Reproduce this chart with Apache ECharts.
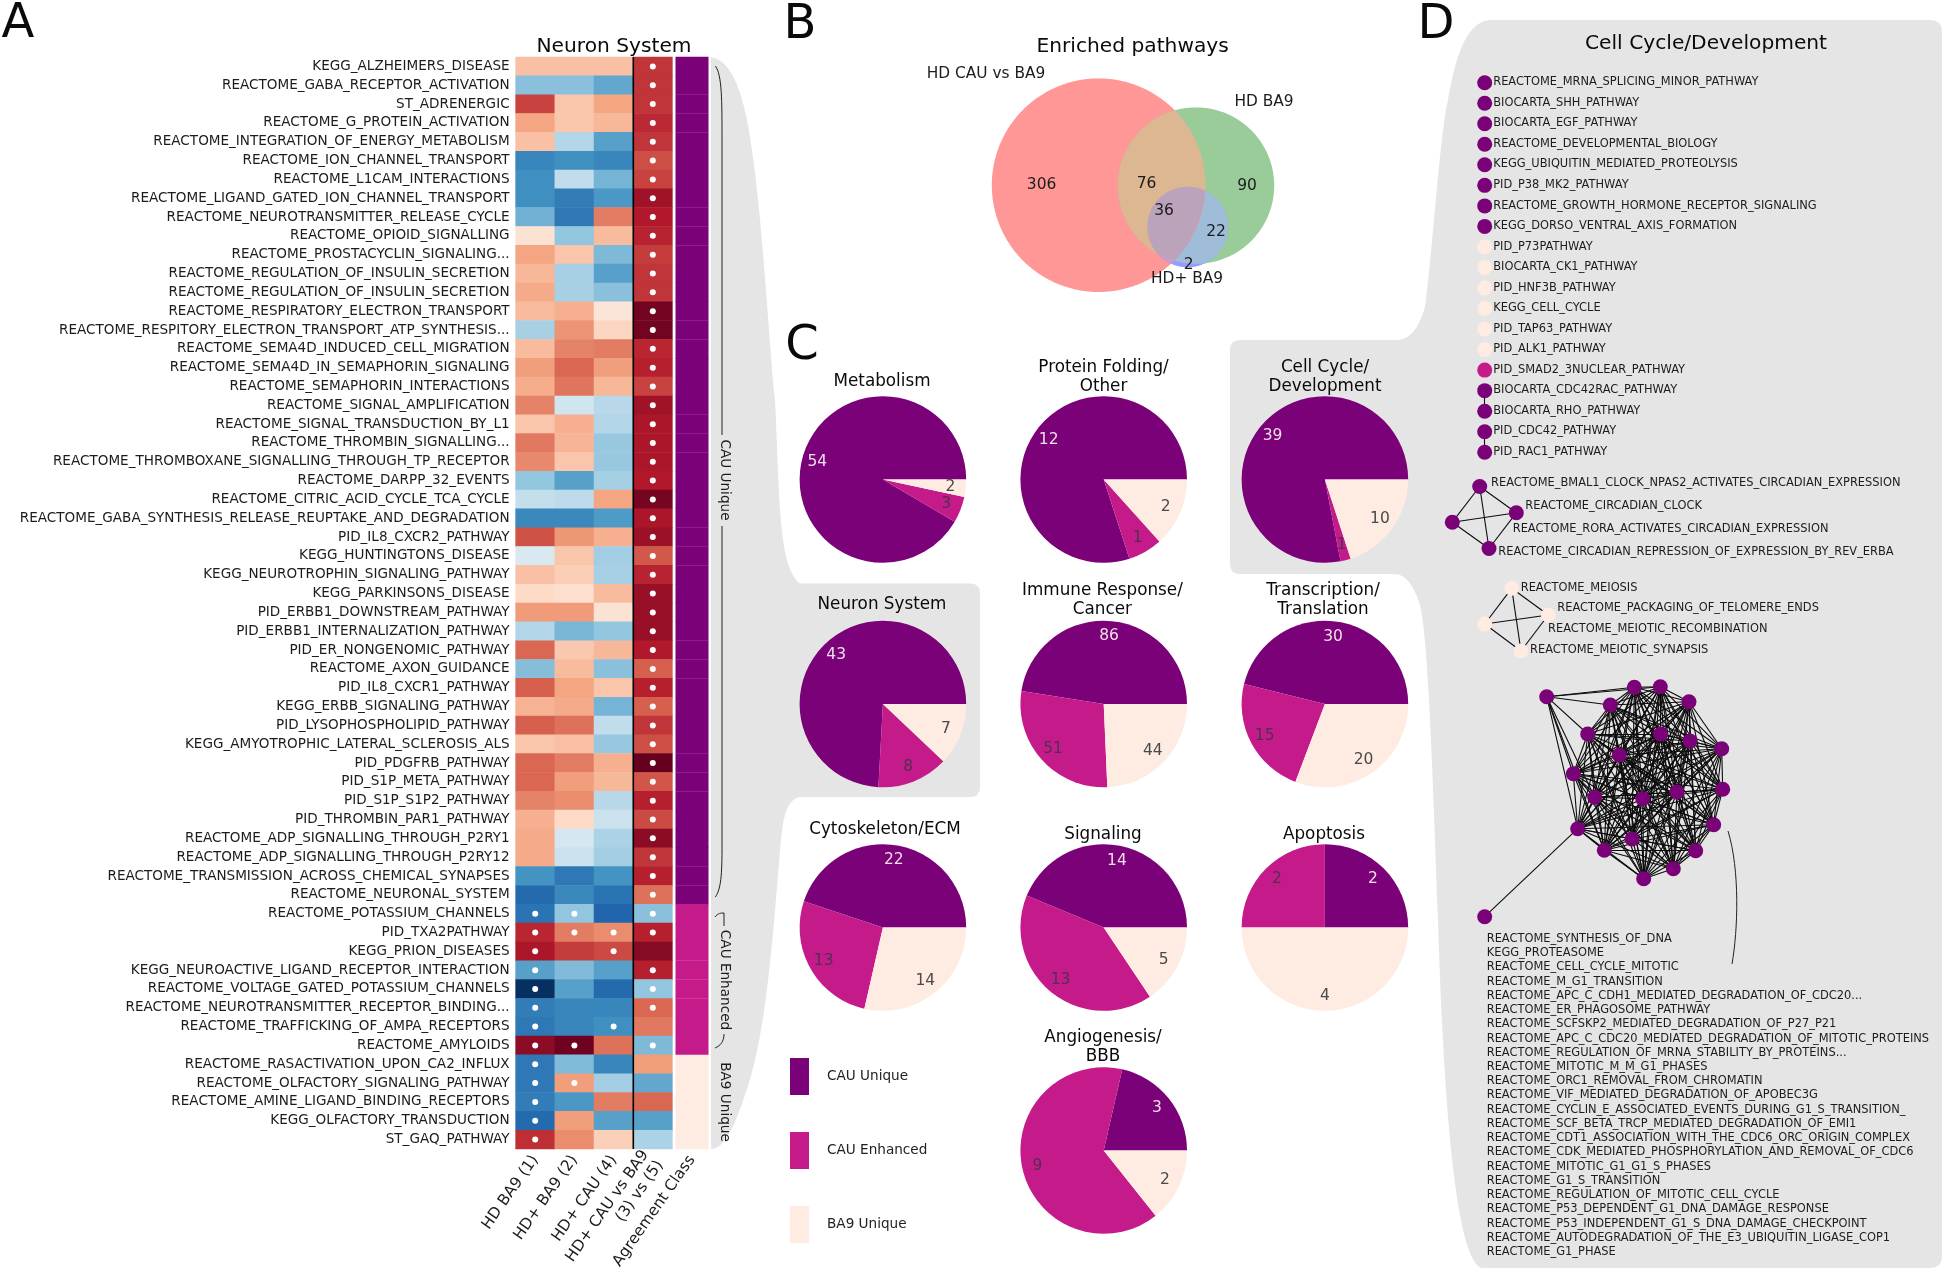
<!DOCTYPE html>
<html><head><meta charset="utf-8">
<style>html,body{margin:0;padding:0;background:#fff}#c{width:1943px;height:1275px}</style>
<script src="https://cdn.jsdelivr.net/npm/echarts@6/dist/echarts.min.js"></script>
</head><body><div id="c"></div>
<script>
// ---------- DATA ----------
const rowLabels = ["KEGG_ALZHEIMERS_DISEASE","REACTOME_GABA_RECEPTOR_ACTIVATION","ST_ADRENERGIC","REACTOME_G_PROTEIN_ACTIVATION","REACTOME_INTEGRATION_OF_ENERGY_METABOLISM","REACTOME_ION_CHANNEL_TRANSPORT","REACTOME_L1CAM_INTERACTIONS","REACTOME_LIGAND_GATED_ION_CHANNEL_TRANSPORT","REACTOME_NEUROTRANSMITTER_RELEASE_CYCLE","REACTOME_OPIOID_SIGNALLING","REACTOME_PROSTACYCLIN_SIGNALING...","REACTOME_REGULATION_OF_INSULIN_SECRETION","REACTOME_REGULATION_OF_INSULIN_SECRETION","REACTOME_RESPIRATORY_ELECTRON_TRANSPORT","REACTOME_RESPITORY_ELECTRON_TRANSPORT_ATP_SYNTHESIS...","REACTOME_SEMA4D_INDUCED_CELL_MIGRATION","REACTOME_SEMA4D_IN_SEMAPHORIN_SIGNALING","REACTOME_SEMAPHORIN_INTERACTIONS","REACTOME_SIGNAL_AMPLIFICATION","REACTOME_SIGNAL_TRANSDUCTION_BY_L1","REACTOME_THROMBIN_SIGNALLING...","REACTOME_THROMBOXANE_SIGNALLING_THROUGH_TP_RECEPTOR","REACTOME_DARPP_32_EVENTS","REACTOME_CITRIC_ACID_CYCLE_TCA_CYCLE","REACTOME_GABA_SYNTHESIS_RELEASE_REUPTAKE_AND_DEGRADATION","PID_IL8_CXCR2_PATHWAY","KEGG_HUNTINGTONS_DISEASE","KEGG_NEUROTROPHIN_SIGNALING_PATHWAY","KEGG_PARKINSONS_DISEASE","PID_ERBB1_DOWNSTREAM_PATHWAY","PID_ERBB1_INTERNALIZATION_PATHWAY","PID_ER_NONGENOMIC_PATHWAY","REACTOME_AXON_GUIDANCE","PID_IL8_CXCR1_PATHWAY","KEGG_ERBB_SIGNALING_PATHWAY","PID_LYSOPHOSPHOLIPID_PATHWAY","KEGG_AMYOTROPHIC_LATERAL_SCLEROSIS_ALS","PID_PDGFRB_PATHWAY","PID_S1P_META_PATHWAY","PID_S1P_S1P2_PATHWAY","PID_THROMBIN_PAR1_PATHWAY","REACTOME_ADP_SIGNALLING_THROUGH_P2RY1","REACTOME_ADP_SIGNALLING_THROUGH_P2RY12","REACTOME_TRANSMISSION_ACROSS_CHEMICAL_SYNAPSES","REACTOME_NEURONAL_SYSTEM","REACTOME_POTASSIUM_CHANNELS","PID_TXA2PATHWAY","KEGG_PRION_DISEASES","KEGG_NEUROACTIVE_LIGAND_RECEPTOR_INTERACTION","REACTOME_VOLTAGE_GATED_POTASSIUM_CHANNELS","REACTOME_NEUROTRANSMITTER_RECEPTOR_BINDING...","REACTOME_TRAFFICKING_OF_AMPA_RECEPTORS","REACTOME_AMYLOIDS","REACTOME_RASACTIVATION_UPON_CA2_INFLUX","REACTOME_OLFACTORY_SIGNALING_PATHWAY","REACTOME_AMINE_LIGAND_BINDING_RECEPTORS","KEGG_OLFACTORY_TRANSDUCTION","ST_GAQ_PATHWAY"];
const columnLabels = ["HD BA9 (1)","HD+ BA9 (2)","HD+ CAU (4)","HD+ CAU vs BA9\n(3) vs (5)","Agreement Class"];
const hdBA9 = [.3,-.42,.68,.4,.3,-.66,-.62,-.62,-.48,.15,.4,.33,.38,.32,-.33,.32,.42,.37,.5,.28,.53,.48,-.4,-.24,-.65,.64,-.16,.3,.2,.43,-.3,.58,-.43,.6,.35,.6,.28,.58,.58,.5,.36,.38,.38,-.6,-.78,-.74,.76,.82,-.55,-1,-.7,-.72,.9,-.72,-.72,-.7,-.78,.74];
const hdPlusBA9 = [.3,-.42,.28,.28,-.3,-.62,-.25,-.7,-.72,-.4,.28,-.33,-.33,.36,.45,.5,.58,.54,-.2,.36,.34,.28,-.55,-.26,-.65,.44,.28,.25,.17,.43,-.46,.27,.32,.4,.38,.55,.3,.52,.42,.47,.2,-.18,-.22,-.72,-.65,-.4,.52,.7,-.44,-.55,-.66,-.66,.98,-.44,.42,-.58,.42,.47];
const hdPlusCAU = [.3,-.52,.4,.33,-.55,-.66,-.47,-.58,.52,.32,-.45,-.55,-.42,.13,.22,.52,.42,.33,-.28,-.3,-.38,-.38,-.34,.4,-.57,.36,-.35,-.33,.32,.15,-.4,.33,-.42,.28,-.47,-.25,-.38,.36,.33,-.28,-.22,-.32,-.35,-.6,-.74,-.8,.47,.66,-.55,-.78,-.66,-.62,.55,-.66,-.35,.52,-.55,.24];
const cauVsBA9 = [.72,.72,.72,.75,.72,.65,.68,.85,.8,.77,.7,.72,.72,.97,.97,.76,.78,.68,.85,.82,.82,.82,.8,.96,.82,.86,.62,.77,.87,.87,.87,.8,.6,.78,.6,.72,.65,1,.63,.78,.66,.9,.72,.78,.55,-.42,.78,.92,.78,-.4,.58,.53,-.45,.42,-.52,.58,-.55,-.32];
const sigHdBA9 = [45,46,47,48,49,50,51,52,53,54,55,56,57];
const sigHdPlusBA9 = [45,46,52,54];
const sigHdPlusCAU = [46,47,51];
const sigCauVsBA9 = [0,1,2,3,4,5,6,7,8,9,10,11,12,13,14,15,16,17,18,19,20,21,22,23,24,25,26,27,28,29,30,31,32,33,34,35,36,37,38,39,40,41,42,43,44,45,46,48,49,50,52];
const classNames = ["CAU Unique","CAU Enhanced","BA9 Unique"];
const classCounts = [45,8,5];

const pieTitles = ["Metabolism","Protein Folding/\nOther","Cell Cycle/\nDevelopment","Neuron System","Immune Response/\nCancer","Transcription/\nTranslation","Cytoskeleton/ECM","Signaling","Apoptosis","Angiogenesis/\nBBB"];
const cauUnique   = [54,12,39,43,86,30,22,14,2,3];
const cauEnhanced = [3,1,1,8,51,15,13,13,2,9];
const ba9Unique   = [2,2,10,7,44,20,14,5,4,2];

const vennTitle = "Enriched pathways";
const vennNames = ["HD CAU vs BA9","HD BA9","HD+ BA9"];
const vennCounts = [306,76,90,36,22,2];

const singletons = ["REACTOME_MRNA_SPLICING_MINOR_PATHWAY","BIOCARTA_SHH_PATHWAY","BIOCARTA_EGF_PATHWAY","REACTOME_DEVELOPMENTAL_BIOLOGY","KEGG_UBIQUITIN_MEDIATED_PROTEOLYSIS","PID_P38_MK2_PATHWAY","REACTOME_GROWTH_HORMONE_RECEPTOR_SIGNALING","KEGG_DORSO_VENTRAL_AXIS_FORMATION","PID_P73PATHWAY","BIOCARTA_CK1_PATHWAY","PID_HNF3B_PATHWAY","KEGG_CELL_CYCLE","PID_TAP63_PATHWAY","PID_ALK1_PATHWAY","PID_SMAD2_3NUCLEAR_PATHWAY","BIOCARTA_CDC42RAC_PATHWAY","BIOCARTA_RHO_PATHWAY","PID_CDC42_PATHWAY","PID_RAC1_PATHWAY"];
const singletonClass = [0,0,0,0,0,0,0,0,2,2,2,2,2,2,1,0,0,0,0];
const circadian = ["REACTOME_BMAL1_CLOCK_NPAS2_ACTIVATES_CIRCADIAN_EXPRESSION","REACTOME_CIRCADIAN_CLOCK","REACTOME_RORA_ACTIVATES_CIRCADIAN_EXPRESSION","REACTOME_CIRCADIAN_REPRESSION_OF_EXPRESSION_BY_REV_ERBA"];
const meiosis = ["REACTOME_MEIOSIS","REACTOME_PACKAGING_OF_TELOMERE_ENDS","REACTOME_MEIOTIC_RECOMBINATION","REACTOME_MEIOTIC_SYNAPSIS"];
const clusterNames = ["REACTOME_SYNTHESIS_OF_DNA","KEGG_PROTEASOME","REACTOME_CELL_CYCLE_MITOTIC","REACTOME_M_G1_TRANSITION","REACTOME_APC_C_CDH1_MEDIATED_DEGRADATION_OF_CDC20...","REACTOME_ER_PHAGOSOME_PATHWAY","REACTOME_SCFSKP2_MEDIATED_DEGRADATION_OF_P27_P21","REACTOME_APC_C_CDC20_MEDIATED_DEGRADATION_OF_MITOTIC_PROTEINS","REACTOME_REGULATION_OF_MRNA_STABILITY_BY_PROTEINS...","REACTOME_MITOTIC_M_M_G1_PHASES","REACTOME_ORC1_REMOVAL_FROM_CHROMATIN","REACTOME_VIF_MEDIATED_DEGRADATION_OF_APOBEC3G","REACTOME_CYCLIN_E_ASSOCIATED_EVENTS_DURING_G1_S_TRANSITION_","REACTOME_SCF_BETA_TRCP_MEDIATED_DEGRADATION_OF_EMI1","REACTOME_CDT1_ASSOCIATION_WITH_THE_CDC6_ORC_ORIGIN_COMPLEX","REACTOME_CDK_MEDIATED_PHOSPHORYLATION_AND_REMOVAL_OF_CDC6","REACTOME_MITOTIC_G1_G1_S_PHASES","REACTOME_G1_S_TRANSITION","REACTOME_REGULATION_OF_MITOTIC_CELL_CYCLE","REACTOME_P53_DEPENDENT_G1_DNA_DAMAGE_RESPONSE","REACTOME_P53_INDEPENDENT_G1_S_DNA_DAMAGE_CHECKPOINT","REACTOME_AUTODEGRADATION_OF_THE_E3_UBIQUITIN_LIGASE_COP1","REACTOME_G1_PHASE"];

// ---------- LAYOUT (separate from data) ----------
const FONT = '"DejaVu Sans"';
const classColors = ["#7a0177","#c51b8a","#feebe2"];
const pieLabelColors = ["#f3dfe9","#4f3050","#4a4a4a"];
const pieCenters = [[882.9,479.5],[1103.7,479.5],[1324.9,479.5],[882.9,704],[1103.7,704],[1324.9,704],[882.9,927.5],[1103.7,927.5],[1324.9,927.5],[1103.7,1150.5]];
const pieTitlePos = [[882,381.2],[1103.5,377],[1325,377],[882,605],[1102.4,600.2],[1323,600.2],[885,829.7],[1103,834.2],[1324,834.2],[1103,1047.5]];
const PIE_R = 83.3;
const vennCircles = [{x:1098.6,y:185.2,r:106.8},{x:1196,y:185.6,r:78.2},{x:1187.6,y:227,r:40.3}];
const vennRegions = [{c:[0],fill:"#ff9797"},{c:[1],fill:"#99cc99"},{c:[2],fill:"#9999ff"},{c:[0,2],fill:"#cc99cc"},{c:[1,2],fill:"#9fbcd9"},{c:[0,1],fill:"#ddb692"},{c:[0,1,2],fill:"#bba3bb"}];
const vennCountPos = [[1041.6,185],[1146.5,183.5],[1247,186],[1164,211],[1216,232],[1188.6,265]];
const vennNamePos = [[986,73.7],[1264,102.4],[1187,278.7]];

const singletonX = 1484.7, singletonY0 = 82.7, singletonDy = 20.53;
const circadianPos = [[1479.7,486.5],[1516.3,512.8],[1452.3,522.2],[1489,548.5]];
const circadianLabelPos = [[1491,483.5],[1525.3,506],[1512.7,529],[1498.3,551.7]];
const meiosisPos = [[1511.7,588.3],[1548.3,615],[1484.7,624],[1521,651]];
const meiosisLabelPos = [[1520.7,588.2],[1557.3,608.5],[1548,629.2],[1530,650.2]];
const clusterPos = [[1546.7,696.7],[1634.3,687.3],[1660.3,686.7],[1610.3,705],[1689,701.7],[1587.7,734],[1660.7,734],[1690,741],[1721.7,748.7],[1619.3,755],[1573.3,773.7],[1722.7,789.3],[1677,792],[1594.7,797.3],[1642.7,798.7],[1577.7,828.7],[1713.7,824.7],[1632,839],[1604.3,850.3],[1695.7,850.7],[1673.3,868.7],[1643.7,878.7],[1484.7,916.7]];
const outlierLinks = [1,3,5,10,13,15,18,2];
const NODE = 15;
const backdropPaths = [
 'M711,57 Q735,60 747,120 C762,200 768,330 775,400 C780,500 778,565 800,583.5 L970,583.5 Q980,583.5 980,593 L980,787 Q980,797 970,797 L800,797 C785,800 783,820 780,850 C772,950 765,1040 745,1095 C735,1125 725,1149 711,1149 Z',
 'M1490,20 L1930,20 Q1942,20 1942,32 L1942,1256 Q1942,1268 1930,1268 L1482,1268 C1460,1262 1445,1150 1438,920 C1432,750 1428,640 1420,605 C1414,585 1405,574 1395,574 L1240,574 Q1230,574 1230,564 L1230,350 Q1230,340 1240,340 L1395,340 C1410,340 1418,330 1425,307 C1432,260 1440,130 1448,100 C1455,60 1465,22 1490,20 Z'];
const bracketPaths = [
 'M715.4,66 C722,75 722,100 722,140 L722,435','M722,526 L722,850 C722,880 720,890 715.4,897',
 'M715,917 C718,913 721,913 724,913 L724,926','M724,1034 C724,1042 720,1046 715,1048',
 'M1728,831 C1740,870 1738,930 1732,964'];

// ---------- BUILD ----------
const heatData = [];
[hdBA9,hdPlusBA9,hdPlusCAU,cauVsBA9].forEach((col,x)=>col.forEach((v,y)=>heatData.push([x,y,v])));
const sigData = [];
[sigHdBA9,sigHdPlusBA9,sigHdPlusCAU,sigCauVsBA9].forEach((rows,x)=>rows.forEach(y=>sigData.push([x,y])));
const classData = [];
let rowCursor = 0;
classCounts.forEach((n,k)=>{for(let i=0;i<n;i++){classData.push({value:[4,rowCursor++],itemStyle:{color:classColors[k],opacity:1}});}});

const series = [];
series.push({type:'heatmap',xAxisIndex:1,yAxisIndex:1,data:heatData,silent:true,z:3});
series.push({type:'scatter',name:'class',xAxisIndex:1,yAxisIndex:1,data:classData,symbol:'rect',symbolSize:[33,19.1],silent:true,z:3,itemStyle:{opacity:1}});
series.push({type:'scatter',name:'significant',xAxisIndex:1,yAxisIndex:1,data:sigData,symbol:'circle',symbolSize:6,itemStyle:{color:'#fff',opacity:1},silent:true,z:5});
series.push({type:'line',xAxisIndex:0,yAxisIndex:0,data:[[633.3,57],[633.3,1149]],showSymbol:false,silent:true,lineStyle:{color:'#000',width:1.6},z:6});
series.push({type:'custom',name:'backdrop',xAxisIndex:0,yAxisIndex:0,silent:true,z:0,clip:false,data:backdropPaths.map((p,i)=>[i,i]),
  renderItem:(params)=>({type:'path',shape:{pathData:backdropPaths[params.dataIndex]},style:{fill:'#e5e5e5'}})});
series.push({type:'custom',name:'brackets',xAxisIndex:0,yAxisIndex:0,silent:true,z:6,clip:false,data:bracketPaths.map((p,i)=>[i,i]),
  renderItem:(params)=>({type:'path',shape:{pathData:bracketPaths[params.dataIndex]},style:{fill:'none',stroke:'#222',lineWidth:1}})});

// Venn regions
function inCircle(p,c){return Math.hypot(p[0]-c.x,p[1]-c.y)<=c.r+1e-6;}
function regionPoints(idx){
  const cs = idx.map(i=>vennCircles[i]), pts=[];
  cs.forEach(c=>{for(let a=0;a<720;a++){const t=a*Math.PI/360,p=[c.x+c.r*Math.cos(t),c.y+c.r*Math.sin(t)];if(cs.every(o=>inCircle(p,o)))pts.push(p);}});
  const mx=pts.reduce((s,p)=>s+p[0],0)/pts.length,my=pts.reduce((s,p)=>s+p[1],0)/pts.length;
  pts.sort((a,b)=>Math.atan2(a[1]-my,a[0]-mx)-Math.atan2(b[1]-my,b[0]-mx));
  return pts;
}
series.push({type:'custom',name:'venn',xAxisIndex:0,yAxisIndex:0,silent:true,z:2,clip:false,
  data:vennRegions.map((r,i)=>[i,i]),
  renderItem:(params,api)=>{const r=vennRegions[params.dataIndex];
    return {type:'polygon',shape:{points:regionPoints(r.c).map(p=>api.coord(p))},style:{fill:r.fill}};}});

// Pies
pieTitles.forEach((t,i)=>{
  const d = classNames.map((n,k)=>({name:n,value:[cauUnique,cauEnhanced,ba9Unique][k][i],itemStyle:{color:classColors[k]},label:{color:pieLabelColors[k]}}));
  series.push({type:'pie',name:t.replace('\n',' '),center:pieCenters[i],radius:[0,PIE_R],startAngle:0,clockwise:false,data:d,label:{show:false},labelLine:{show:false},silent:true,z:3,avoidLabelOverlap:false,minShowLabelAngle:0});
  series.push({type:'pie',name:t.replace('\n',' ')+' labels',center:pieCenters[i],radius:[PIE_R*0.56,PIE_R],startAngle:0,clockwise:false,
    data:d.map(o=>({name:o.name,value:o.value,itemStyle:{color:'rgba(0,0,0,0)'},label:o.label})),
    label:{show:true,position:'inside',formatter:'{c}',fontSize:15.5,fontFamily:FONT},labelLine:{show:false},silent:true,z:4,avoidLabelOverlap:false,minShowLabelAngle:0,legendHoverLink:false});
});

// Network
const nodes=[],links=[];
function addNode(id,name,pos,cls,lab){
  const n={id,name,value:pos,itemStyle:{color:classColors[cls],opacity:1}};
  if(lab){n.label={show:true,position:'right',distance:0,offset:[lab[0]-pos[0]-NODE/2,lab[1]-pos[1]],formatter:'{b}',fontSize:11.43,fontFamily:FONT,color:'#1c1c1c'};}
  else {n.label={show:false};}
  nodes.push(n);
}
singletons.forEach((s,i)=>{const p=[singletonX,singletonY0+singletonDy*i];addNode('s'+i,s,p,singletonClass[i],[p[0]+NODE/2+1,p[1]-0.3]);});
links.push({source:'s15',target:'s16'},{source:'s17',target:'s18'});
circadian.forEach((s,i)=>addNode('c'+i,s,circadianPos[i],0,circadianLabelPos[i]));
meiosis.forEach((s,i)=>addNode('m'+i,s,meiosisPos[i],2,meiosisLabelPos[i]));
for(let i=0;i<4;i++)for(let j=i+1;j<4;j++){links.push({source:'c'+i,target:'c'+j},{source:'m'+i,target:'m'+j});}
clusterNames.forEach((s,i)=>addNode('k'+i,s,clusterPos[i],0,null));
for(let i=1;i<22;i++)for(let j=i+1;j<22;j++){links.push({source:'k'+i,target:'k'+j});}
outlierLinks.forEach(j=>links.push({source:'k0',target:'k'+j}));
links.push({source:'k15',target:'k22'});
series.push({type:'graph',layout:'none',coordinateSystem:'cartesian2d',xAxisIndex:0,yAxisIndex:0,roam:false,silent:true,symbol:'circle',symbolSize:NODE,
  data:nodes,links:links,lineStyle:{color:'#0c0c0c',width:1.1,opacity:1,curveness:0},z:4});

// Titles
function ttl(text,x,y,size,lh){return {text,left:x,top:y,padding:0,textAlign:'center',textVerticalAlign:'middle',textStyle:{fontFamily:FONT,fontSize:size,fontWeight:'normal',color:'#0a0a0a',lineHeight:lh||size*1.2}};}
const titles=[ttl('A',18,25,48,50),ttl('B',800,26,48,50),ttl('C',802,347,48,50),ttl('D',1436,25.5,48,50),
  ttl('Neuron System',614,47,20.2),ttl(vennTitle,1132.6,46.8,20.2),ttl('Cell Cycle/Development',1706,44,20.2)];
pieTitles.forEach((t,i)=>titles.push(ttl(t,pieTitlePos[i][0],pieTitlePos[i][1],16.8,19)));

// Graphics
const G=[];
function txt(text,x,y,size,o){G.push(Object.assign({type:'text',x,y,z:8,silent:true,style:{text,fontSize:size,fontFamily:FONT,fill:'#1c1c1c',align:(o&&o.align)||'center',verticalAlign:'middle'}},o&&o.rotation?{rotation:o.rotation}:{}));}
txt('CAU Unique',725,480,13.6,{rotation:-Math.PI/2});
txt('CAU Enhanced',725,980,13.6,{rotation:-Math.PI/2});
txt('BA9 Unique',725,1102,13.6,{rotation:-Math.PI/2});
vennCounts.forEach((v,i)=>txt(String(v),vennCountPos[i][0],vennCountPos[i][1],15.5));
vennNames.forEach((v,i)=>txt(v,vennNamePos[i][0],vennNamePos[i][1],15.4));
clusterNames.forEach((s,i)=>txt(s,1486.7,939+14.23*i,11.43,{align:'left'}));

const option={
  animation:false,backgroundColor:'#fff',
  title:titles,
  grid:[{left:0,top:0,width:1943,height:1275,outerBoundsMode:'none'},{left:515.6,top:57,width:196,height:1092,outerBoundsMode:'none'}],
  xAxis:[{type:'value',min:0,max:1943,show:false,gridIndex:0},
    {type:'category',gridIndex:1,data:columnLabels,splitLine:{show:false},axisLine:{show:false},
     axisTick:{alignWithLabel:true,length:3.5,lineStyle:{color:'#333'}},
     axisLabel:{interval:0,rotate:55,margin:8,fontSize:15.5,fontFamily:FONT,color:'#1c1c1c',lineHeight:18}}],
  yAxis:[{type:'value',min:0,max:1275,inverse:true,show:false,gridIndex:0},
    {type:'category',gridIndex:1,inverse:true,data:rowLabels,splitLine:{show:false},axisLine:{show:false},
     axisTick:{alignWithLabel:true,length:3.5,lineStyle:{color:'#333'}},
     axisLabel:{interval:0,margin:6,fontSize:13.57,fontFamily:FONT,color:'#1c1c1c'}}],
  visualMap:{show:false,type:'continuous',min:-1,max:1,dimension:2,seriesIndex:0,
    inRange:{color:['#053061','#2166ac','#4393c3','#92c5de','#d1e5f0','#f7f7f7','#fddbc7','#f4a582','#d6604d','#b2182b','#67001f']}},
  legend:{orient:'vertical',left:790,top:1058,itemWidth:19,itemHeight:37,itemGap:37,selectedMode:false,padding:0,
    data:classNames,icon:'rect',textStyle:{fontFamily:FONT,fontSize:13.6,color:'#222',padding:[0,0,0,13]}},
  graphic:{elements:G},
  series
};
const chart=echarts.init(document.getElementById('c'));
chart.setOption(option);
</script></body></html>
